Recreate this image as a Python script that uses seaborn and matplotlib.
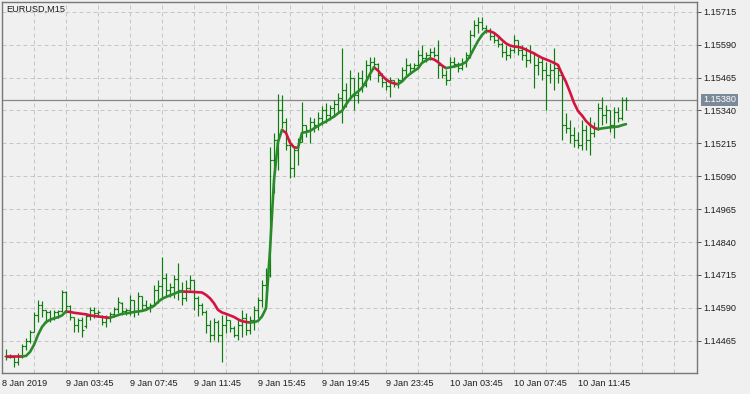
import numpy as np
import pandas as pd
import matplotlib
matplotlib.use("Agg")
import matplotlib.pyplot as plt
import seaborn as sns

symbol_title = "EURUSD,M15"

opens = [
    1.14407, 1.14403, 1.14403, 1.14384, 1.14407, 1.14445, 1.14464, 1.14498, 1.14563, 1.14601,
    1.14582, 1.14574, 1.14552, 1.14574, 1.14578, 1.14650, 1.14597, 1.14555, 1.14525, 1.14544,
    1.14521, 1.14559, 1.14582, 1.14571, 1.14559, 1.14536, 1.14552, 1.14567, 1.14586, 1.14609,
    1.14578, 1.14582, 1.14620, 1.14578, 1.14635, 1.14601, 1.14593, 1.14601, 1.14658, 1.14673,
    1.14704, 1.14658, 1.14669, 1.14700, 1.14658, 1.14628, 1.14666, 1.14696, 1.14628, 1.14601,
    1.14574, 1.14525, 1.14487, 1.14536, 1.14487, 1.14525, 1.14544, 1.14514, 1.14487, 1.14525,
    1.14552, 1.14506, 1.14544, 1.14582, 1.14620, 1.14677, 1.14715, 1.15152, 1.15228, 1.15342,
    1.15296, 1.15209, 1.15122, 1.15190, 1.15220, 1.15285, 1.15266, 1.15296, 1.15285, 1.15312,
    1.15342, 1.15323, 1.15350, 1.15365, 1.15388, 1.15418, 1.15380, 1.15464, 1.15399, 1.15464,
    1.15437, 1.15513, 1.15524, 1.15517, 1.15475, 1.15448, 1.15433, 1.15456, 1.15441, 1.15456,
    1.15494, 1.15513, 1.15502, 1.15513, 1.15551, 1.15540, 1.15551, 1.15562, 1.15551, 1.15513,
    1.15475, 1.15456, 1.15524, 1.15517, 1.15502, 1.15524, 1.15551, 1.15627, 1.15665, 1.15676,
    1.15654, 1.15646, 1.15623, 1.15608, 1.15593, 1.15562, 1.15551, 1.15570, 1.15608, 1.15570,
    1.15551, 1.15532, 1.15559, 1.15513, 1.15524, 1.15494, 1.15475, 1.15494, 1.15502, 1.15475,
    1.15285, 1.15274, 1.15247, 1.15228, 1.15209, 1.15266, 1.15228, 1.15255, 1.15274, 1.15350,
    1.15323, 1.15342, 1.15285, 1.15334, 1.15312, 1.15380,
]

highs = [
    1.14434, 1.14415, 1.14407, 1.14419, 1.14453, 1.14476, 1.14506, 1.14574, 1.14620, 1.14616,
    1.14582, 1.14582, 1.14582, 1.14582, 1.14658, 1.14654, 1.14601, 1.14555, 1.14552, 1.14555,
    1.14571, 1.14593, 1.14593, 1.14582, 1.14563, 1.14563, 1.14574, 1.14593, 1.14631, 1.14612,
    1.14590, 1.14639, 1.14620, 1.14650, 1.14635, 1.14620, 1.14609, 1.14677, 1.14696, 1.14783,
    1.14723, 1.14685, 1.14715, 1.14761, 1.14688, 1.14696, 1.14715, 1.14696, 1.14635, 1.14609,
    1.14582, 1.14544, 1.14552, 1.14544, 1.14563, 1.14563, 1.14544, 1.14521, 1.14544, 1.14582,
    1.14571, 1.14559, 1.14597, 1.14631, 1.14696, 1.14742, 1.15201, 1.15255, 1.15403, 1.15399,
    1.15312, 1.15228, 1.15201, 1.15236, 1.15372, 1.15285, 1.15315, 1.15312, 1.15334, 1.15357,
    1.15369, 1.15361, 1.15380, 1.15407, 1.15578, 1.15445, 1.15494, 1.15464, 1.15486, 1.15494,
    1.15532, 1.15543, 1.15543, 1.15521, 1.15483, 1.15464, 1.15467, 1.15456, 1.15464, 1.15505,
    1.15540, 1.15521, 1.15521, 1.15570, 1.15589, 1.15562, 1.15578, 1.15581, 1.15608, 1.15513,
    1.15494, 1.15543, 1.15543, 1.15524, 1.15540, 1.15562, 1.15646, 1.15684, 1.15695, 1.15695,
    1.15665, 1.15654, 1.15635, 1.15619, 1.15600, 1.15589, 1.15581, 1.15627, 1.15608, 1.15589,
    1.15581, 1.15589, 1.15562, 1.15543, 1.15540, 1.15524, 1.15521, 1.15578, 1.15513, 1.15486,
    1.15331, 1.15304, 1.15277, 1.15258, 1.15304, 1.15285, 1.15315, 1.15296, 1.15369, 1.15391,
    1.15361, 1.15342, 1.15353, 1.15353, 1.15391, 1.15391,
]

lows = [
    1.14392, 1.14400, 1.14365, 1.14373, 1.14400, 1.14430, 1.14457, 1.14498, 1.14536, 1.14555,
    1.14533, 1.14536, 1.14544, 1.14552, 1.14574, 1.14571, 1.14544, 1.14498, 1.14498, 1.14479,
    1.14514, 1.14544, 1.14552, 1.14555, 1.14525, 1.14517, 1.14536, 1.14555, 1.14571, 1.14563,
    1.14563, 1.14563, 1.14555, 1.14563, 1.14582, 1.14582, 1.14574, 1.14601, 1.14609, 1.14631,
    1.14631, 1.14631, 1.14628, 1.14620, 1.14601, 1.14616, 1.14658, 1.14582, 1.14559, 1.14563,
    1.14495, 1.14460, 1.14468, 1.14460, 1.14384, 1.14495, 1.14498, 1.14479, 1.14468, 1.14479,
    1.14487, 1.14491, 1.14506, 1.14552, 1.14593, 1.14631, 1.14707, 1.15027, 1.15114, 1.15274,
    1.15190, 1.15084, 1.15087, 1.15133, 1.15220, 1.15239, 1.15217, 1.15258, 1.15266, 1.15285,
    1.15293, 1.15304, 1.15315, 1.15334, 1.15293, 1.15353, 1.15380, 1.15342, 1.15369, 1.15410,
    1.15429, 1.15456, 1.15505, 1.15448, 1.15429, 1.15418, 1.15391, 1.15429, 1.15426, 1.15456,
    1.15475, 1.15483, 1.15494, 1.15509, 1.15521, 1.15524, 1.15532, 1.15543, 1.15464, 1.15464,
    1.15437, 1.15456, 1.15505, 1.15486, 1.15494, 1.15505, 1.15540, 1.15619, 1.15635, 1.15646,
    1.15635, 1.15608, 1.15597, 1.15581, 1.15543, 1.15532, 1.15540, 1.15559, 1.15551, 1.15532,
    1.15505, 1.15521, 1.15426, 1.15475, 1.15456, 1.15342, 1.15445, 1.15418, 1.15445, 1.15228,
    1.15255, 1.15217, 1.15201, 1.15198, 1.15190, 1.15190, 1.15171, 1.15239, 1.15266, 1.15285,
    1.15293, 1.15258, 1.15236, 1.15296, 1.15304, 1.15342,
]

closes = [
    1.14403, 1.14403, 1.14384, 1.14407, 1.14445, 1.14464, 1.14498, 1.14563, 1.14601, 1.14582,
    1.14574, 1.14552, 1.14574, 1.14578, 1.14650, 1.14597, 1.14555, 1.14525, 1.14544, 1.14506,
    1.14559, 1.14582, 1.14571, 1.14574, 1.14536, 1.14552, 1.14567, 1.14586, 1.14612, 1.14578,
    1.14582, 1.14620, 1.14578, 1.14635, 1.14601, 1.14593, 1.14601, 1.14658, 1.14673, 1.14704,
    1.14658, 1.14669, 1.14700, 1.14658, 1.14628, 1.14666, 1.14696, 1.14628, 1.14601, 1.14574,
    1.14525, 1.14487, 1.14536, 1.14487, 1.14525, 1.14544, 1.14514, 1.14487, 1.14525, 1.14552,
    1.14506, 1.14544, 1.14582, 1.14620, 1.14677, 1.14715, 1.15152, 1.15228, 1.15342, 1.15296,
    1.15209, 1.15122, 1.15190, 1.15220, 1.15285, 1.15266, 1.15296, 1.15285, 1.15312, 1.15342,
    1.15323, 1.15350, 1.15365, 1.15388, 1.15418, 1.15380, 1.15464, 1.15399, 1.15464, 1.15437,
    1.15513, 1.15524, 1.15517, 1.15475, 1.15448, 1.15433, 1.15456, 1.15441, 1.15456, 1.15494,
    1.15513, 1.15502, 1.15513, 1.15551, 1.15540, 1.15551, 1.15562, 1.15551, 1.15513, 1.15475,
    1.15456, 1.15524, 1.15517, 1.15502, 1.15524, 1.15551, 1.15627, 1.15665, 1.15676, 1.15654,
    1.15646, 1.15623, 1.15608, 1.15593, 1.15562, 1.15551, 1.15570, 1.15608, 1.15570, 1.15551,
    1.15532, 1.15562, 1.15513, 1.15524, 1.15494, 1.15475, 1.15494, 1.15502, 1.15475, 1.15285,
    1.15274, 1.15247, 1.15228, 1.15209, 1.15266, 1.15228, 1.15255, 1.15274, 1.15350, 1.15323,
    1.15342, 1.15285, 1.15334, 1.15312, 1.15380, 1.15380,
]

ma_values = [
    1.14405, 1.14405, 1.14405, 1.14405, 1.14405, 1.14407, 1.14422, 1.14449, 1.14487, 1.14517,
    1.14536, 1.14544, 1.14550, 1.14554, 1.14561, 1.14576, 1.14574, 1.14571, 1.14569, 1.14567,
    1.14565, 1.14561, 1.14559, 1.14557, 1.14555, 1.14553, 1.14552, 1.14557, 1.14562, 1.14567,
    1.14569, 1.14571, 1.14574, 1.14576, 1.14578, 1.14582, 1.14590, 1.14597, 1.14612, 1.14624,
    1.14631, 1.14637, 1.14643, 1.14650, 1.14652, 1.14651, 1.14651, 1.14650, 1.14649, 1.14648,
    1.14639, 1.14626, 1.14607, 1.14582, 1.14572, 1.14567, 1.14561, 1.14555, 1.14546, 1.14539,
    1.14536, 1.14534, 1.14535, 1.14540, 1.14557, 1.14588, 1.14810, 1.15076, 1.15220, 1.15266,
    1.15255, 1.15217, 1.15200, 1.15198, 1.15255, 1.15258, 1.15262, 1.15272, 1.15281, 1.15291,
    1.15298, 1.15308, 1.15317, 1.15329, 1.15338, 1.15363, 1.15384, 1.15401, 1.15412, 1.15426,
    1.15450, 1.15479, 1.15504, 1.15492, 1.15473, 1.15458, 1.15448, 1.15443, 1.15440, 1.15450,
    1.15466, 1.15479, 1.15490, 1.15500, 1.15521, 1.15530, 1.15538, 1.15534, 1.15524, 1.15511,
    1.15501, 1.15504, 1.15507, 1.15511, 1.15516, 1.15524, 1.15547, 1.15576, 1.15604, 1.15627,
    1.15642, 1.15641, 1.15635, 1.15623, 1.15608, 1.15595, 1.15587, 1.15583, 1.15582, 1.15578,
    1.15571, 1.15564, 1.15557, 1.15548, 1.15540, 1.15534, 1.15528, 1.15521, 1.15513, 1.15479,
    1.15448, 1.15410, 1.15369, 1.15338, 1.15321, 1.15300, 1.15285, 1.15274, 1.15269, 1.15272,
    1.15274, 1.15276, 1.15277, 1.15279, 1.15284, 1.15288,
]

time_labels = ["8 Jan 2019", "9 Jan 03:45", "9 Jan 07:45", "9 Jan 11:45", "9 Jan 15:45",
               "9 Jan 19:45", "9 Jan 23:45", "10 Jan 03:45", "10 Jan 07:45", "10 Jan 11:45"]
time_label_bars = [-1, 15, 31, 47, 63, 79, 95, 111, 127, 143]
price_ticks = [1.14465, 1.14590, 1.14715, 1.14840, 1.14965, 1.15090,
               1.15215, 1.15340, 1.15465, 1.15590, 1.15715]
last_price = 1.15380

# ---------------------------------------------------------------- style
sns.set_style("white")
plt.rcParams["font.family"] = ["Liberation Sans", "DejaVu Sans"]

BG = "#f0f0f0"
BAR_C = "#0c7e0c"
UP_C = "#2a8a2a"
DOWN_C = "#d6133f"
TXT_C = "#1e1e1e"

fig = plt.figure(figsize=(7.5, 3.94), dpi=100, facecolor=BG)
ax = fig.add_axes([2 / 750, 21 / 394, 695 / 750, 371 / 394])
ax.set_facecolor(BG)

n = len(closes)
idx = np.arange(n)

# OHLC bars
ax.vlines(idx, lows, highs, color=BAR_C, linewidth=0.85, zorder=3)
ax.hlines(opens, idx - 0.45, idx, color=BAR_C, linewidth=0.85, zorder=3)
ax.hlines(closes, idx, idx + 0.45, color=BAR_C, linewidth=0.85, zorder=3)

# moving average coloured by slope
rows = []
run = -1
prev = None
for i in range(n - 1):
    trend = "up" if ma_values[i + 1] > ma_values[i] else "down"
    if trend != prev:
        run += 1
        rows.append((i, ma_values[i], trend, run))
    rows.append((i + 1, ma_values[i + 1], trend, run))
    prev = trend
ma_df = pd.DataFrame(rows, columns=["bar", "ma", "trend", "run"])
sns.lineplot(data=ma_df, x="bar", y="ma", hue="trend", units="run", estimator=None,
             palette={"up": UP_C, "down": DOWN_C}, linewidth=1.9, legend=False,
             sort=False, ax=ax, zorder=4, solid_capstyle="round")

# last price line
ax.axhline(last_price, color="#888888", linewidth=0.9, zorder=2)

ax.set_xlim(-1, 172.75)
ax.set_ylim(1.14342, 1.157524)
ax.set_xlabel("")
ax.set_ylabel("")

ax.yaxis.tick_right()
ax.set_yticks(price_ticks)
ax.set_yticklabels([f"{p:.5f}" for p in price_ticks])
ax.set_xticks(time_label_bars)
ax.set_xticklabels(time_labels, ha="left")
ax.set_xticks(np.arange(7, 173, 8), minor=True)

ax.tick_params(axis="both", which="major", length=3, width=0.7, color="#555555",
               labelsize=6.6, labelcolor=TXT_C, pad=1.5)
ax.tick_params(axis="x", which="minor", length=0)
grid_kw = dict(color="#c6c6c6", linestyle=(0, (4, 3)), linewidth=0.72)
ax.grid(True, which="both", axis="x", **grid_kw)
ax.grid(True, which="major", axis="y", **grid_kw)
ax.set_axisbelow(True)

for sp in ax.spines.values():
    sp.set_visible(True)
    sp.set_color("#777777")
    sp.set_linewidth(1.0)

ax.annotate(symbol_title, xy=(0, 1), xycoords="axes fraction", xytext=(4, -3),
            textcoords="offset pixels", ha="left", va="top", fontsize=6.6, color=TXT_C)

ax.annotate(f"{last_price:.5f}", xy=(1, last_price), xycoords=("axes fraction", "data"),
            xytext=(6, 0), textcoords="offset pixels", ha="left", va="center",
            fontsize=6.6, color="white", annotation_clip=False,
            bbox=dict(boxstyle="square,pad=0.2", fc="#7b8a99", ec="none"))

fig.savefig("out.png", dpi=100, facecolor=BG)
